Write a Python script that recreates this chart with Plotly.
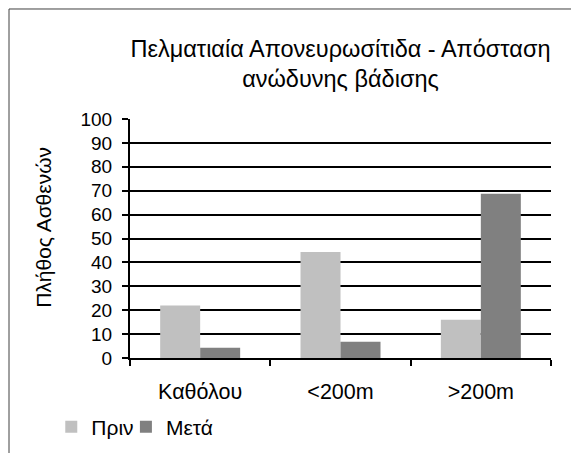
import plotly.graph_objects as go

categories = ["Καθόλου", "<200m", ">200m"]
before = [22, 44.4, 16]
after = [4.3, 6.8, 68.7]
y_ticks = [0, 10, 20, 30, 40, 50, 60, 70, 80, 90, 100]

FONT = "Liberation Sans, Arial, sans-serif"

fig = go.Figure()

fig.add_trace(
    go.Bar(
        x=categories,
        y=before,
        name="Πριν",
        legend="legend",
        marker=dict(color="#C0C0C0", line=dict(width=0)),
    )
)
fig.add_trace(
    go.Bar(
        x=categories,
        y=after,
        name="Μετά",
        legend="legend2",
        marker=dict(color="#808080", line=dict(width=0)),
    )
)

# outer chart frame (cropped on the right and bottom)
fig.add_shape(
    type="rect",
    xref="paper",
    yref="paper",
    x0=-0.2874,
    x1=1.2,
    y0=-0.6,
    y1=1.4603,
    line=dict(color="#404040", width=1),
    layer="below",
)

# y axis title
fig.add_annotation(
    text="Πλήθος Ασθενών",
    xref="paper",
    yref="paper",
    x=-0.204,
    y=0.545,
    xanchor="center",
    yanchor="middle",
    textangle=-90,
    showarrow=False,
    font=dict(size=21, family=FONT, color="black"),
)

legend_style = dict(
    orientation="h",
    xanchor="left",
    y=-0.289,
    yanchor="middle",
    font=dict(size=21, family=FONT),
    itemwidth=30,
    bgcolor="rgba(0,0,0,0)",
)

fig.update_layout(
    width=579,
    height=453,
    margin=dict(l=122, r=36, t=111, b=103, autoexpand=False),
    paper_bgcolor="white",
    plot_bgcolor="white",
    font=dict(family=FONT, color="black"),
    barmode="group",
    bargap=0.43,
    bargroupgap=0,
    title=dict(
        text="Πελματιαία Απονευρωσίτιδα - Απόσταση<br>ανώδυνης βάδισης",
        x=0.5,
        xref="paper",
        xanchor="center",
        y=0.8925,
        yanchor="middle",
        font=dict(size=23.5, family=FONT, color="black"),
    ),
    showlegend=True,
    legend=dict(x=-0.187, **legend_style),
    legend2=dict(x=-0.0097, **legend_style),
)

fig.update_yaxes(
    range=[0, 100],
    tickvals=y_ticks,
    automargin=False,
    showgrid=True,
    gridcolor="black",
    gridwidth=2,
    showline=True,
    linecolor="black",
    linewidth=2,
    ticks="outside",
    ticklen=6,
    tickwidth=2,
    tickcolor="black",
    tickfont=dict(size=19, family=FONT),
    ticklabelstandoff=6,
    zeroline=False,
)

fig.update_xaxes(
    automargin=False,
    showline=True,
    linecolor="black",
    linewidth=2,
    ticks="outside",
    tickson="boundaries",
    ticklen=6,
    tickwidth=2,
    tickcolor="black",
    tickfont=dict(size=21.5, family=FONT),
    ticklabelstandoff=13,
    showgrid=False,
)

fig.write_html("out.html")
